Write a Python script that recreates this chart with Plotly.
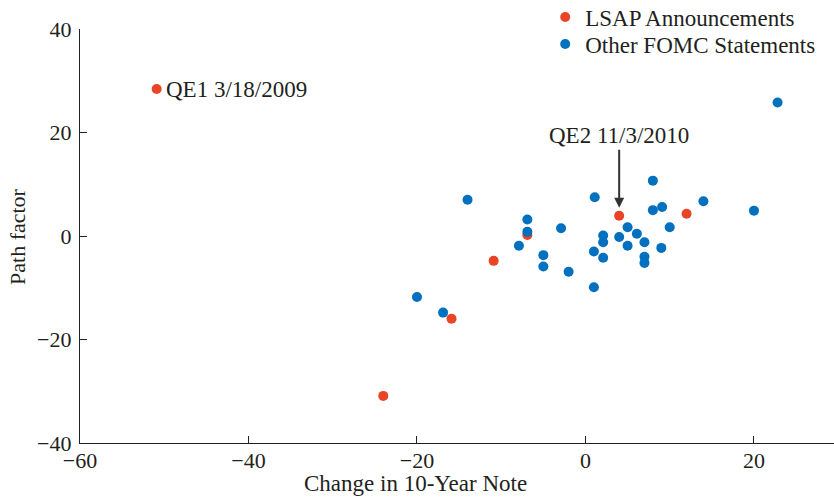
import plotly.graph_objects as go

# LSAP announcements
lsap_x = [-50.9, -24.0, -15.9, -10.9, -6.9, 4.0, 12.0]
lsap_y = [28.4, -30.9, -16.0, -4.8, 0.2, 3.9, 4.3]

# Other FOMC statements
other_x = [-14.0, -6.9, -6.9, -7.9, -2.9, -5.0, -5.0, -2.0, 1.1, 2.1, 2.1, 1.0, 2.1, 1.0,
           4.0, 5.0, 6.1, 5.0, 7.0, 7.0, 7.0, 8.0, 8.0, 9.1, 10.0, 9.0, 14.0, -20.0, -16.9,
           22.8, 20.0]
other_y = [7.0, 3.2, 0.8, -1.9, 1.5, -3.7, -5.9, -6.9, 7.5, 0.1, -1.2, -3.0, -4.2, -9.9,
           -0.2, 1.7, 0.45, -1.9, -1.2, -4.0, -5.2, 10.7, 5.0, 5.6, 1.7, -2.3, 6.7, -11.8, -14.8,
           25.8, 4.9]

x_ticks = [-60, -40, -20, 0, 20]
y_ticks = [-40, -20, 0, 20, 40]

RED = "#EA4427"
BLUE = "#0070BF"
INK = "#231F20"
FONT = "Liberation Serif"

fig = go.Figure()
fig.add_trace(go.Scatter(x=lsap_x, y=lsap_y, mode="markers", name="LSAP Announcements",
                         legend="legend",
                         marker=dict(color=RED, size=10, line=dict(width=0))))
fig.add_trace(go.Scatter(x=other_x, y=other_y, mode="markers", name="Other FOMC Statements",
                         legend="legend2",
                         marker=dict(color=BLUE, size=10, line=dict(width=0))))

fig.add_annotation(x=lsap_x[0], y=lsap_y[0], text="QE1 3/18/2009", showarrow=False,
                   xanchor="left", yanchor="middle", xshift=7,
                   font=dict(family=FONT, size=23, color=INK))
fig.add_annotation(x=lsap_x[5], y=lsap_y[5], text="QE2 11/3/2010", showarrow=True,
                   ax=0, ay=-80, arrowhead=2, arrowsize=1, arrowwidth=2, arrowcolor="#333333",
                   standoff=8, font=dict(family=FONT, size=23, color=INK))
fig.add_annotation(xref="paper", yref="paper", x=0.4456, y=-0.097, text="Change in 10-Year Note",
                   showarrow=False, xanchor="center", yanchor="middle",
                   font=dict(family=FONT, size=23, color=INK))
fig.add_annotation(xref="paper", yref="paper", x=-0.0836, y=0.5, text="Path factor",
                   showarrow=False, xanchor="center", yanchor="middle", textangle=-90,
                   font=dict(family=FONT, size=22, color=INK))

legend_style = dict(xanchor="left", yanchor="middle", bgcolor="rgba(0,0,0,0)",
                    font=dict(family=FONT, size=23, color=INK), itemwidth=30)

fig.update_layout(
    width=834, height=499,
    margin=dict(l=80, r=0, t=29, b=56, autoexpand=False),
    paper_bgcolor="white", plot_bgcolor="white",
    font=dict(family=FONT, size=22, color=INK),
    showlegend=True,
    legend=dict(x=0.617, y=1.029, **legend_style),
    legend2=dict(x=0.617, y=0.9638, **legend_style),
    xaxis=dict(range=[-60, 29.5], tickvals=x_ticks, ticktext=[str(v).replace("-", "\u2212") for v in x_ticks],
               ticks="inside", ticklen=7, tickcolor=INK, tickwidth=1.2, automargin=False,
               ticklabelstandoff=-3,
               showline=True, linecolor=INK, linewidth=1.3, showgrid=False, zeroline=False,
               tickfont=dict(family=FONT, size=22, color=INK)),
    yaxis=dict(range=[-40, 40], tickvals=y_ticks, ticktext=[str(v).replace("-", "\u2212") for v in y_ticks],
               ticks="inside", ticklen=7, tickcolor=INK, tickwidth=1.2, automargin=False,
               ticklabelstandoff=3,
               showline=True, linecolor=INK, linewidth=1.3, showgrid=False, zeroline=False,
               tickfont=dict(family=FONT, size=22, color=INK)),
)

fig.write_html("out.html", config={"displayModeBar": False},
               post_script="document.body.style.margin='0';document.body.style.overflow='hidden';")
